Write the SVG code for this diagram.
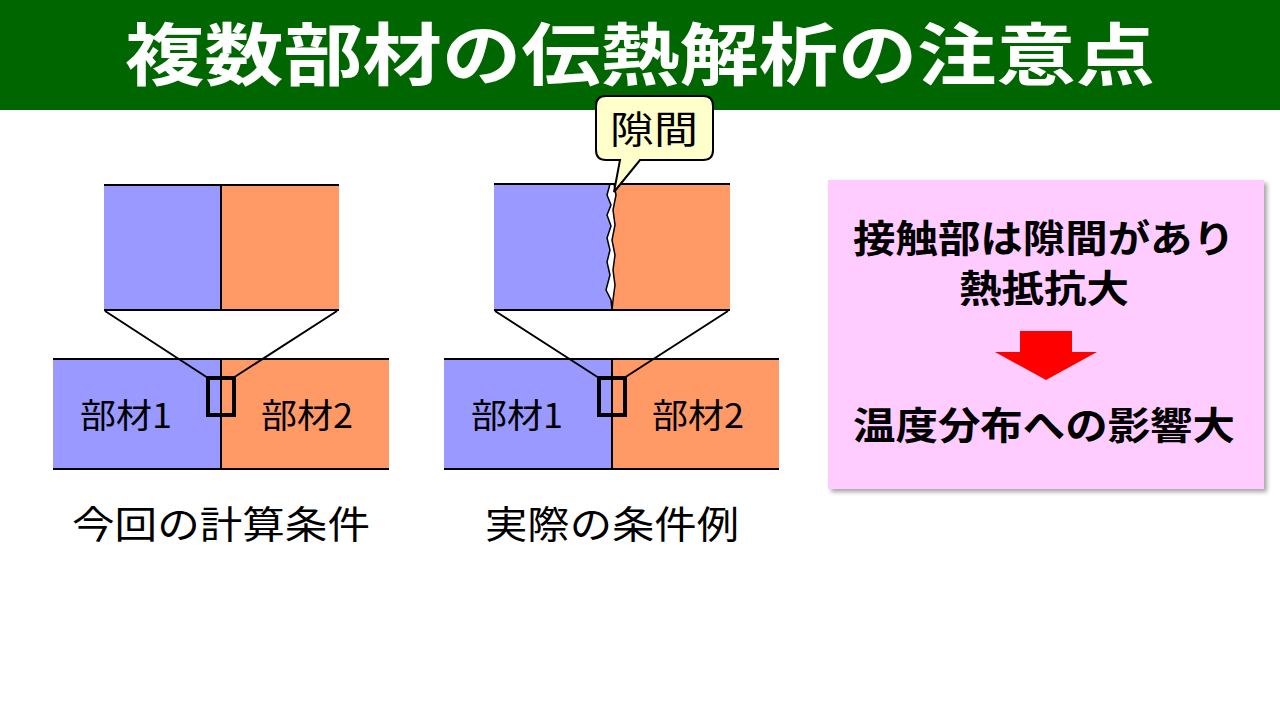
<svg xmlns="http://www.w3.org/2000/svg" width="1280" height="720" viewBox="0 0 1280 720">
<defs>
<style>
.t{font-family:"Noto Sans CJK JP","Noto Sans",sans-serif;fill:#000}
.ln{stroke:#000;stroke-width:2;fill:none}
.b{fill:#9999ff}.o{fill:#ff9966}
</style>
<filter id="sh" x="-5%" y="-5%" width="115%" height="115%"><feDropShadow dx="3" dy="3" stdDeviation="2" flood-color="#000" flood-opacity="0.35"/></filter>
</defs>
<rect width="1280" height="720" fill="#fff"/>
<g id="header"><rect x="0" y="0" width="1280" height="110" fill="#006600"/>
<text x="640" y="80" text-anchor="middle" font-size="68" font-weight="bold" fill="#fff" textLength="1030" lengthAdjust="spacingAndGlyphs" style="font-family:'Noto Sans CJK JP',sans-serif">複数部材の伝熱解析の注意点</text></g>
<g id="left-zoom"><rect class="b" x="104" y="185" width="117" height="125"/><rect class="o" x="221" y="185" width="118" height="125"/>
<path class="ln" d="M104 185H339M104 310H339M221 185V310"/></g>
<g id="left-bar"><rect class="b" x="53" y="359" width="168" height="110"/><rect class="o" x="221" y="359" width="168" height="110"/>
<path class="ln" d="M53 359H389M53 469H389M221 359V469"/>
<rect x="208" y="378" width="26" height="37" fill="none" stroke="#000" stroke-width="4"/>
<text class="t" x="126" y="428" font-size="34" text-anchor="middle" textLength="92" lengthAdjust="spacingAndGlyphs">部材1</text><text class="t" x="307" y="428" font-size="34" text-anchor="middle" textLength="92" lengthAdjust="spacingAndGlyphs">部材2</text></g>
<text class="t" x="221" y="538" font-size="38" text-anchor="middle" textLength="298" lengthAdjust="spacingAndGlyphs">今回の計算条件</text>
<g id="mid-zoom"><rect class="b" x="494" y="184" width="118" height="126"/><rect class="o" x="612" y="184" width="118" height="126"/>
<path d="M610 184 L607 195 L611 205 L607 215 L611 226 L607 238 L610 250 L607 262 L610 275 L606 290 L611 300 L612 310 L613 300 L615 285 L613 270 L615 255 L612 240 L615 225 L613 210 L616 195 L614 184Z" fill="#fff" stroke="#000" stroke-width="1.5"/>
<path class="ln" d="M494 184H730M494 310H730"/></g>
<g id="mid-bar"><rect class="b" x="444" y="359" width="168" height="110"/><rect class="o" x="612" y="359" width="167" height="110"/>
<path class="ln" d="M444 359H779M444 469H779M612 359V469"/>
<rect x="599" y="378" width="26" height="37" fill="none" stroke="#000" stroke-width="4"/>
<text class="t" x="517" y="428" font-size="34" text-anchor="middle" textLength="92" lengthAdjust="spacingAndGlyphs">部材1</text><text class="t" x="698" y="428" font-size="34" text-anchor="middle" textLength="92" lengthAdjust="spacingAndGlyphs">部材2</text></g>
<text class="t" x="612" y="538" font-size="38" text-anchor="middle" textLength="254" lengthAdjust="spacingAndGlyphs">実際の条件例</text>
<g id="connectors"><path class="ln" d="M105 311L208 378M337 311L233 378M495 311L599 378M728 311L624 378"/></g>
<g id="callout"><path d="M608 96H703Q713 96 713 106V150Q713 160 703 160H640L614 192L620 160H606Q596 160 596 150V106Q596 96 606 96Z" fill="#ffffcc" stroke="#000" stroke-width="2"/>
<text class="t" x="654" y="143" font-size="38" text-anchor="middle" textLength="88" lengthAdjust="spacingAndGlyphs">隙間</text></g>
<g id="summary"><rect x="828" y="180" width="436" height="309" fill="#ffccff" filter="url(#sh)"/>
<text class="t" x="1044" y="252" font-size="38" font-weight="bold" text-anchor="middle" textLength="382" lengthAdjust="spacingAndGlyphs">接触部は隙間があり</text>
<text class="t" x="1044" y="302" font-size="38" font-weight="bold" text-anchor="middle" textLength="170" lengthAdjust="spacingAndGlyphs">熱抵抗大</text>
<path d="M1020 331H1072V352H1097L1046 380L995 352H1020Z" fill="#ff0000"/>
<text class="t" x="1044" y="439" font-size="38" font-weight="bold" text-anchor="middle" textLength="382" lengthAdjust="spacingAndGlyphs">温度分布への影響大</text></g>
</svg>
